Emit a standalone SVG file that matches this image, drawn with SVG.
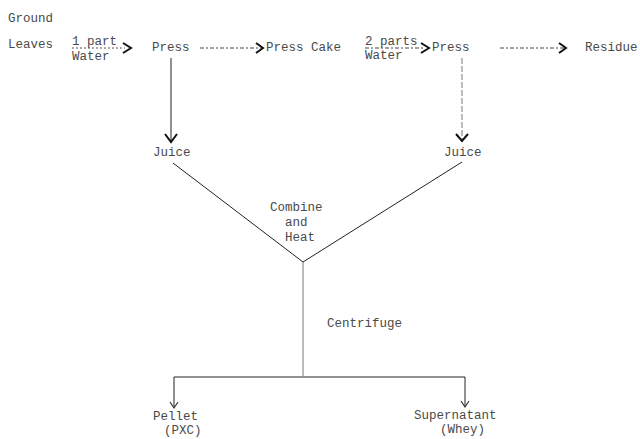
<svg xmlns="http://www.w3.org/2000/svg" width="640" height="439" viewBox="0 0 640 439">
<defs>
<style>
text{font-family:"Liberation Mono","DejaVu Sans Mono",monospace;font-size:12.5px;fill:#4a4a4a}
.ln{stroke:#222;stroke-width:1;fill:none}
.gl{stroke:#777;stroke-width:1;fill:none}
.ds{stroke:#444;stroke-width:1;fill:none;stroke-dasharray:4 2 2 2}
.dt{stroke:#555;stroke-width:1;fill:none;stroke-dasharray:2 2}
.ah{stroke:#111;stroke-width:2;fill:none}
.ahs{stroke:#333;stroke-width:1.2;fill:none}
</style>
</defs>
<g id="ground-leaves"><text x="8" y="22">Ground</text><text x="8" y="48">Leaves</text></g>
<g id="press1"><text x="152" y="51">Press</text></g>
<g id="press-cake"><text x="266" y="51">Press Cake</text></g>
<g id="press2"><text x="432" y="51">Press</text></g>
<g id="residue"><text x="585" y="51">Residue</text></g>
<g id="juice1"><text x="153" y="156">Juice</text></g>
<g id="juice2"><text x="444" y="156">Juice</text></g>
<g id="combine"><text x="270" y="211">Combine</text><text x="285" y="226">and</text><text x="285" y="241">Heat</text></g>
<g id="centrifuge"><text x="327" y="327">Centrifuge</text></g>
<g id="pellet"><text x="153" y="420">Pellet</text><text x="164" y="434">(PXC)</text></g>
<g id="supernatant"><text x="414" y="419">Supernatant</text><text x="440" y="433">(Whey)</text></g>
<g id="connectors">
<text x="72" y="45">1 part</text><text x="72" y="60">Water</text>
<path class="dt" d="M72 48H125"/><path class="ah" d="M123 43L131 48L123 53"/>
<path class="ds" d="M200 48H262"/><path class="ah" d="M256 43L263 48L256 53"/>
<text x="365" y="45">2 parts</text><text x="365" y="59">Water</text>
<path class="ds" d="M365 48H425"/><path class="ah" d="M421 43L429 48L421 53"/>
<path class="ds" d="M500 48H565"/><path class="ah" d="M559 43L566 48L559 53"/>
<path class="ln" d="M171 58V142"/><path class="ah" d="M165 134L171 142L177 134"/>
<path class="gl" d="M462 58V142" stroke-dasharray="6 2"/><path class="ah" d="M456 134L462 141L468 134"/>
<path class="ln" d="M173 163L303 262L462 162"/>
<path class="gl" d="M303 262V376"/>
<path class="ln" d="M174 377H465"/>
<path class="ln" d="M174 377V407"/><path class="ahs" d="M170 402L174 408L178 402"/>
<path class="ln" d="M465 377V406"/><path class="ahs" d="M461 401L465 407L469 401"/>
</g>
</svg>
